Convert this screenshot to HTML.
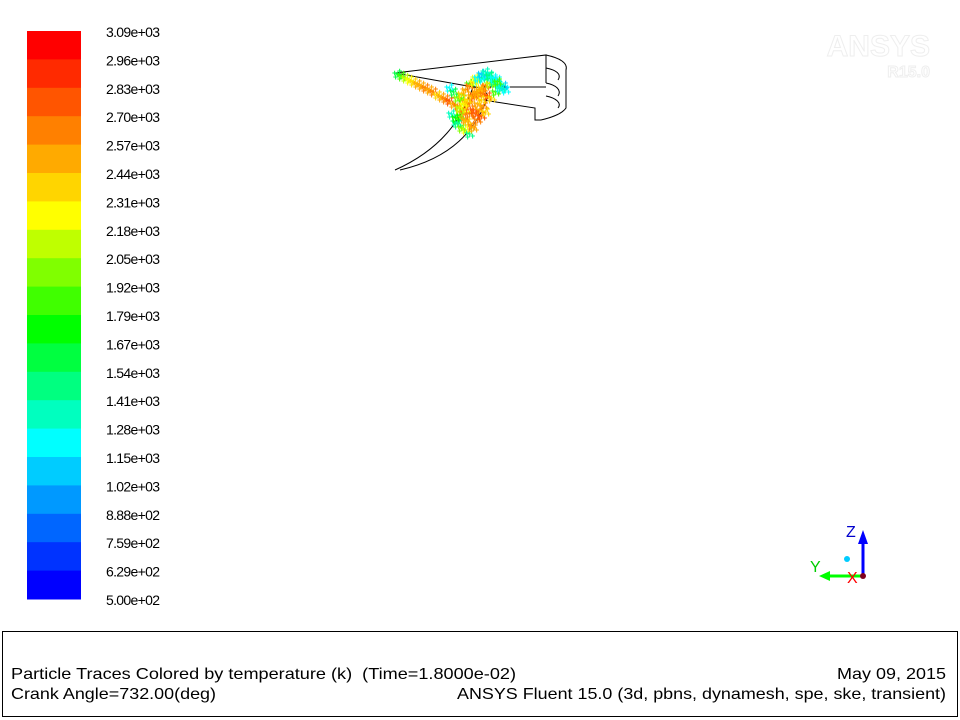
<!DOCTYPE html>
<html><head><meta charset="utf-8"><style>
body{margin:0;background:#fff;width:960px;height:720px;overflow:hidden;font-family:"Liberation Sans",sans-serif}
svg{position:absolute;left:0;top:0}
</style></head><body>
<svg width="960" height="720">
<g id="colorbar"></g>
<g id="labels" font-size="14" fill="#000"></g>
<g font-weight="bold" fill="#fff" stroke="#eee" stroke-width="1">
<text x="930" y="56" text-anchor="end" font-size="30">ANSYS</text>
<text x="930" y="77" text-anchor="end" font-size="16">R15.0</text>
</g>
<g fill="none" stroke="#000" stroke-width="1">
<path d="M395,73 L546,55 L546,83"/>
<path d="M546,55 C560,58 568,63 566,70 L566,108 C562,114 550,118 541,120"/>
<path d="M546,68 C556,70 562,74 558,80 M546,83 C556,85 562,90 558,96 M546,96 C556,98 562,103 558,108"/>
<path d="M395,73 L473,87 L546,87"/>
<path d="M483,100 L535,108 L535,120 L541,120"/>
<path d="M473,87 L483,88 L488,96"/>
<path d="M473,87 C462,120 440,150 395,170"/>
<path d="M488,96 C476,130 452,158 400,170"/>
</g>
<g id="particles"></g>
<g>
<line x1="863" y1="576" x2="863" y2="540" stroke="#0000ff" stroke-width="3"/>
<polygon points="858,544 868,544 863,530" fill="#0000ff"/>
<line x1="863" y1="576" x2="826" y2="576" stroke="#00ff00" stroke-width="3"/>
<polygon points="830,571 830,581 819,576" fill="#00ff00"/>
<circle cx="863" cy="576" r="3" fill="#800020"/>
<circle cx="847" cy="559" r="3" fill="#00ccff"/>
<text x="846" y="537" font-size="16" fill="#0000cc">Z</text>
<text x="810" y="572" font-size="16" fill="#00cc00">Y</text>
<text x="847" y="583" font-size="16" fill="#ff0000">X</text>
</g>
<rect x="2.5" y="631.5" width="955" height="85" fill="none" stroke="#000"/>
<g font-size="16" fill="#000">
<text x="11" y="679" textLength="505" lengthAdjust="spacingAndGlyphs" xml:space="preserve">Particle Traces Colored by temperature (k)  (Time=1.8000e-02)</text>
<text x="11" y="699" textLength="205" lengthAdjust="spacingAndGlyphs">Crank Angle=732.00(deg)</text>
<text x="837" y="679" textLength="109" lengthAdjust="spacingAndGlyphs">May 09, 2015</text>
<text x="457" y="699" textLength="489" lengthAdjust="spacingAndGlyphs">ANSYS Fluent 15.0 (3d, pbns, dynamesh, spe, ske, transient)</text>
</g>
</svg>
<script>
const tickLabels=["3.09e+03","2.96e+03","2.83e+03","2.70e+03","2.57e+03","2.44e+03","2.31e+03","2.18e+03","2.05e+03","1.92e+03","1.79e+03","1.67e+03","1.54e+03","1.41e+03","1.28e+03","1.15e+03","1.02e+03","8.88e+02","7.59e+02","6.29e+02","5.00e+02"];
const bandCount=20;
const NS="http://www.w3.org/2000/svg";
const cb=document.getElementById('colorbar'),lb=document.getElementById('labels');
const top0=31,bot=599,bh=(bot-top0)/bandCount;
function bandHue(i){
 if(i<=6) return i*10;
 if(i<=14) return 60+(i-6)*15;
 return 180+(i-14)*12;
}
function bandColor(i){return `hsl(${bandHue(i)},100%,50%)`;}
for(let i=0;i<bandCount;i++){
 const r=document.createElementNS(NS,'rect');
 r.setAttribute('x',27);r.setAttribute('y',top0+i*bh);r.setAttribute('width',54);r.setAttribute('height',bh+0.5);
 r.setAttribute('fill',bandColor(i));
 
 
 cb.appendChild(r);
}
for(let i=0;i<tickLabels.length;i++){
 const t=document.createElementNS(NS,'text');
 t.setAttribute('x',106);t.setAttribute('y',top0+i*(bot-top0)/(tickLabels.length-1)+6);
 t.setAttribute('textLength',54);
 t.textContent=tickLabels[i];
 
 
 lb.appendChild(t);
}
// particle clusters: [x, y, band]
const particleX=[398,402,406,410,414,418,422,426,430,434,438,442,446,450,454,458,462,466,470,474,478,482,486,490,494,498,502,506,460,464,468,472,476,480,484,466,470,474,478,482,486,456,460,464,468,472,476,480,462,466,470,474,478,482,486,490,494,498,476,480,484,488,492,496,500,504,458,462,466,470,474,478,482,452,456,460,464,468,472,450,454,458,462,466,470,474,478,482,486,490,494,498,502];
const particleY=[74,76,78,80,82,84,86,88,90,92,95,97,99,101,104,106,108,110,84,82,80,78,76,75,80,84,88,90,112,118,122,126,114,110,106,130,134,128,120,116,112,122,116,108,100,96,94,92,98,102,104,96,92,88,86,84,82,80,78,90,94,96,98,92,88,86,124,128,120,114,110,104,100,114,118,108,104,100,96,88,92,98,94,90,86,82,78,74,72,76,78,82,88];
const particleBand=[11,9,7,6,5,4,4,3,4,3,5,4,3,2,4,3,5,6,9,13,14,12,14,13,15,11,6,14,4,3,5,3,2,4,3,6,12,4,3,2,5,13,8,3,4,2,3,5,9,4,3,2,4,5,3,7,12,14,6,4,3,2,5,9,14,15,12,8,4,3,2,4,5,13,10,7,6,5,4,14,11,8,5,4,3,6,14,15,13,12,14,9,13];
const pg=document.getElementById('particles');
for(let i=0;i<particleX.length;i++){
 for(const [dx,dy] of [[0,0],[3,2],[-2,3],[2,-3],[-3,-1]]){
  const p=document.createElementNS(NS,'text');
  p.setAttribute('x',particleX[i]+dx-3);p.setAttribute('y',particleY[i]+dy+3);
  p.setAttribute('font-size','9');p.setAttribute('font-weight','bold');
  p.setAttribute('fill',bandColor(particleBand[i]));
  p.textContent='+';
  
  
  pg.appendChild(p);
 }
}
</script>
</body></html>
